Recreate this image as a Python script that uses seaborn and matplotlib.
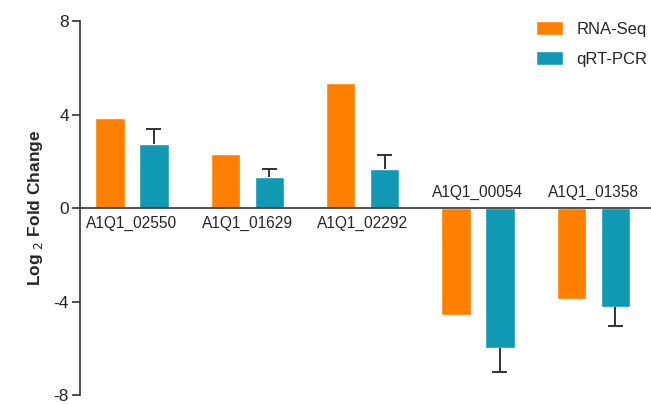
import numpy as np
import pandas as pd
import matplotlib.pyplot as plt
import seaborn as sns

genes = ['A1Q1_02550', 'A1Q1_01629', 'A1Q1_02292', 'A1Q1_00054', 'A1Q1_01358']
rna_seq = [3.86, 2.33, 5.34, -4.58, -3.90]
qrt_pcr = [2.75, 1.31, 1.67, -5.97, -4.24]
qrt_err = [0.64, 0.38, 0.58, 1.06, 0.80]
methods = ['RNA-Seq', 'qRT-PCR']
colors = ['#FF8000', '#1198B2']

df = pd.DataFrame({
    'gene': genes * 2,
    'method': [methods[0]] * len(genes) + [methods[1]] * len(genes),
    'value': rna_seq + qrt_pcr,
})

sns.set_style('white')
plt.rcParams['font.family'] = ['Liberation Sans', 'DejaVu Sans']
plt.rcParams['axes.unicode_minus'] = False

fig = plt.figure(figsize=(6.51, 4.04), dpi=100)
ax = fig.add_axes([0.123, 0.022, 0.877, 0.926])

sns.barplot(data=df, x='gene', y='value', hue='method', palette=colors,
            saturation=1, width=0.76, gap=0.33, errorbar=None, ax=ax, zorder=2)

# one-sided error bars on the qRT-PCR bars (away from zero)
qbars = ax.containers[1]
for bar, v, e in zip(qbars, qrt_pcr, qrt_err):
    xc = bar.get_x() + bar.get_width() / 2
    tip = v + e if v > 0 else v - e
    ax.vlines(xc, v, tip, color='#333333', lw=1.4, zorder=3)
    ax.hlines(tip, xc - 0.065, xc + 0.065, color='#333333', lw=1.4, zorder=3)

ax.axhline(0, color='#333333', lw=1.2, zorder=4)
ax.set_xlim(-0.45, 4.5)
ax.set_ylim(-8, 8)
ax.set_yticks([-8, -4, 0, 4, 8])
ax.set_xticks([])
ax.set_xlabel('')
ax.set_ylabel('Log $_{2}$ Fold Change', fontsize=12.5, fontweight='bold', labelpad=6)
ax.tick_params(axis='y', direction='out', length=6, width=1.2, color='#333333',
               labelsize=12.5, left=True, pad=2)
for s in ['top', 'right', 'bottom']:
    ax.spines[s].set_visible(False)
ax.spines['left'].set_color('#333333')
ax.spines['left'].set_linewidth(1.2)

for i, g in enumerate(genes):
    if rna_seq[i] > 0:
        ax.text(i, -0.35, g, ha='center', va='top', fontsize=11.2)
    else:
        ax.text(i, 0.35, g, ha='center', va='bottom', fontsize=11.2)

ax.legend(loc='upper right', bbox_to_anchor=(1.02, 1.04), frameon=False,
          fontsize=12, handlelength=1.6, handleheight=0.9, labelspacing=0.85)

fig.savefig('out.png', dpi=100)
